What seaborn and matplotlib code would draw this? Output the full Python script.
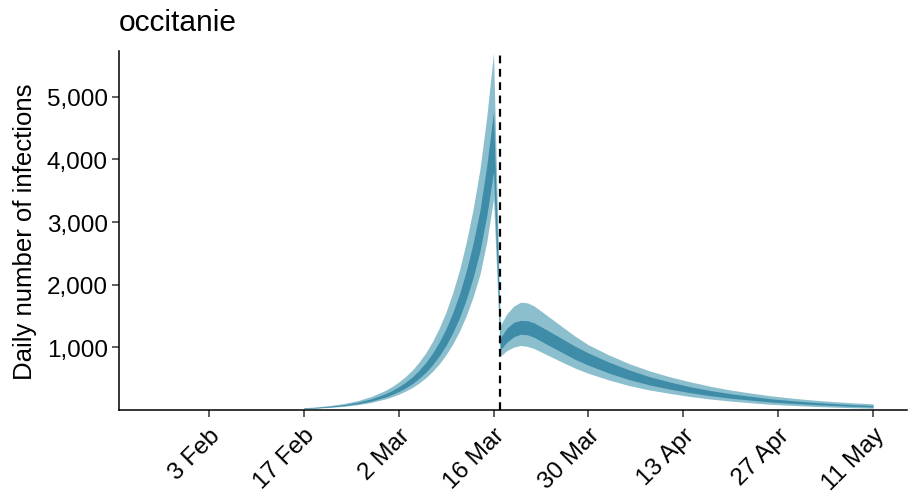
import pandas as pd
import matplotlib
matplotlib.use('Agg')
import matplotlib.pyplot as plt
import seaborn as sns

# daily infections estimates, occitanie
dates = ['2020-02-17', '2020-02-19', '2020-02-21', '2020-02-23', '2020-02-25',
         '2020-02-27', '2020-02-29', '2020-03-01', '2020-03-02', '2020-03-03',
         '2020-03-04', '2020-03-05', '2020-03-06', '2020-03-07', '2020-03-08',
         '2020-03-09', '2020-03-10', '2020-03-11', '2020-03-12', '2020-03-13',
         '2020-03-14', '2020-03-15', '2020-03-16',
         '2020-03-17', '2020-03-18', '2020-03-19', '2020-03-20', '2020-03-21',
         '2020-03-22', '2020-03-24', '2020-03-26', '2020-03-28', '2020-03-30',
         '2020-04-02', '2020-04-05', '2020-04-08', '2020-04-11', '2020-04-14',
         '2020-04-17', '2020-04-20', '2020-04-23', '2020-04-26', '2020-04-29',
         '2020-05-02', '2020-05-05', '2020-05-08', '2020-05-11']

lower_95 = [20, 29, 42, 59, 85, 122, 175, 210, 251, 300, 357, 429, 513, 616, 737,
            882, 1056, 1262, 1512, 1809, 2166, 2680, 3370,
            860, 950, 1005, 1030, 1015, 980, 875, 770, 670, 585,
            480, 390, 320, 265, 215, 175, 142, 115, 90, 74, 58, 46, 36, 28]
lower_50 = [24, 34, 49, 69, 100, 143, 205, 246, 294, 352, 418, 503, 601, 721, 863,
            1032, 1237, 1477, 1771, 2118, 2537, 3100, 3800,
            960, 1085, 1170, 1210, 1200, 1160, 1040, 925, 810, 715,
            590, 485, 400, 333, 276, 228, 188, 157, 127, 106, 87, 72, 59, 48]
upper_50 = [30, 43, 62, 87, 125, 180, 258, 309, 370, 442, 526, 633, 756, 907, 1086,
            1299, 1557, 1859, 2229, 2666, 3192, 3900, 4760,
            1150, 1310, 1400, 1430, 1425, 1390, 1270, 1145, 1020, 910,
            765, 640, 532, 447, 372, 310, 259, 218, 178, 150, 124, 104, 86, 72]
upper_95 = [36, 51, 74, 105, 151, 217, 311, 373, 446, 533, 635, 763, 911, 1094, 1310,
            1566, 1877, 2241, 2687, 3213, 3848, 4680, 5700,
            1350, 1540, 1660, 1720, 1710, 1660, 1500, 1340, 1180, 1040,
            880, 740, 625, 530, 450, 378, 318, 270, 225, 190, 160, 135, 115, 98]

tick_dates = ['2020-02-03', '2020-02-17', '2020-03-02', '2020-03-16',
              '2020-03-30', '2020-04-13', '2020-04-27', '2020-05-11']
tick_labels = ['3 Feb', '17 Feb', '2 Mar', '16 Mar', '30 Mar', '13 Apr', '27 Apr', '11 May']
y_ticks = [1000, 2000, 3000, 4000, 5000]
lockdown = '2020-03-17'
region = 'occitanie'

df = pd.DataFrame({'date': pd.to_datetime(dates), 'lo95': lower_95, 'lo50': lower_50,
                   'hi50': upper_50, 'hi95': upper_95})

sns.set_theme(style='ticks')
plt.rcParams['font.family'] = ['Liberation Sans', 'DejaVu Sans']
plt.rcParams['text.color'] = 'black'
plt.rcParams['axes.labelcolor'] = 'black'

fig = plt.figure(figsize=(9.1, 5.02), dpi=100)
ax = fig.add_axes([0.1308, 0.1813, 0.8659, 0.7151])

ax.fill_between(df['date'], df['lo95'], df['hi95'], color='#8cbfcd', linewidth=0)
ax.fill_between(df['date'], df['lo50'], df['hi50'], color='#3f8ca8', linewidth=0)
ax.axvline(pd.Timestamp(lockdown), color='black', linestyle=(0, (3.5, 2.5)), linewidth=1.6)

ax.set_xlim(pd.Timestamp('2020-01-20 18:00'), pd.Timestamp('2020-05-16'))
ax.set_ylim(0, 5730)
ax.set_xticks(pd.to_datetime(tick_dates))
ax.set_xticklabels(tick_labels, rotation=45, ha='right', va='top', rotation_mode='anchor')
ax.set_yticks(y_ticks)
ax.set_yticklabels([f'{v:,}' for v in y_ticks])
ax.tick_params(axis='both', labelsize=17.5, colors='#333333', labelcolor='black',
               length=5, width=1.1)
ax.tick_params(axis='x', pad=5)
ax.tick_params(axis='y', pad=3)

ax.set_xlabel('')
ax.set_ylabel('Daily number of infections', fontsize=18.5, labelpad=7, color='black')
ax.set_title(region, loc='left', fontsize=21.5, pad=15, color='black')

sns.despine(ax=ax)
for side in ['left', 'bottom']:
    ax.spines[side].set_color('black')
    ax.spines[side].set_linewidth(1.1)

plt.savefig('out.png', dpi=100)
